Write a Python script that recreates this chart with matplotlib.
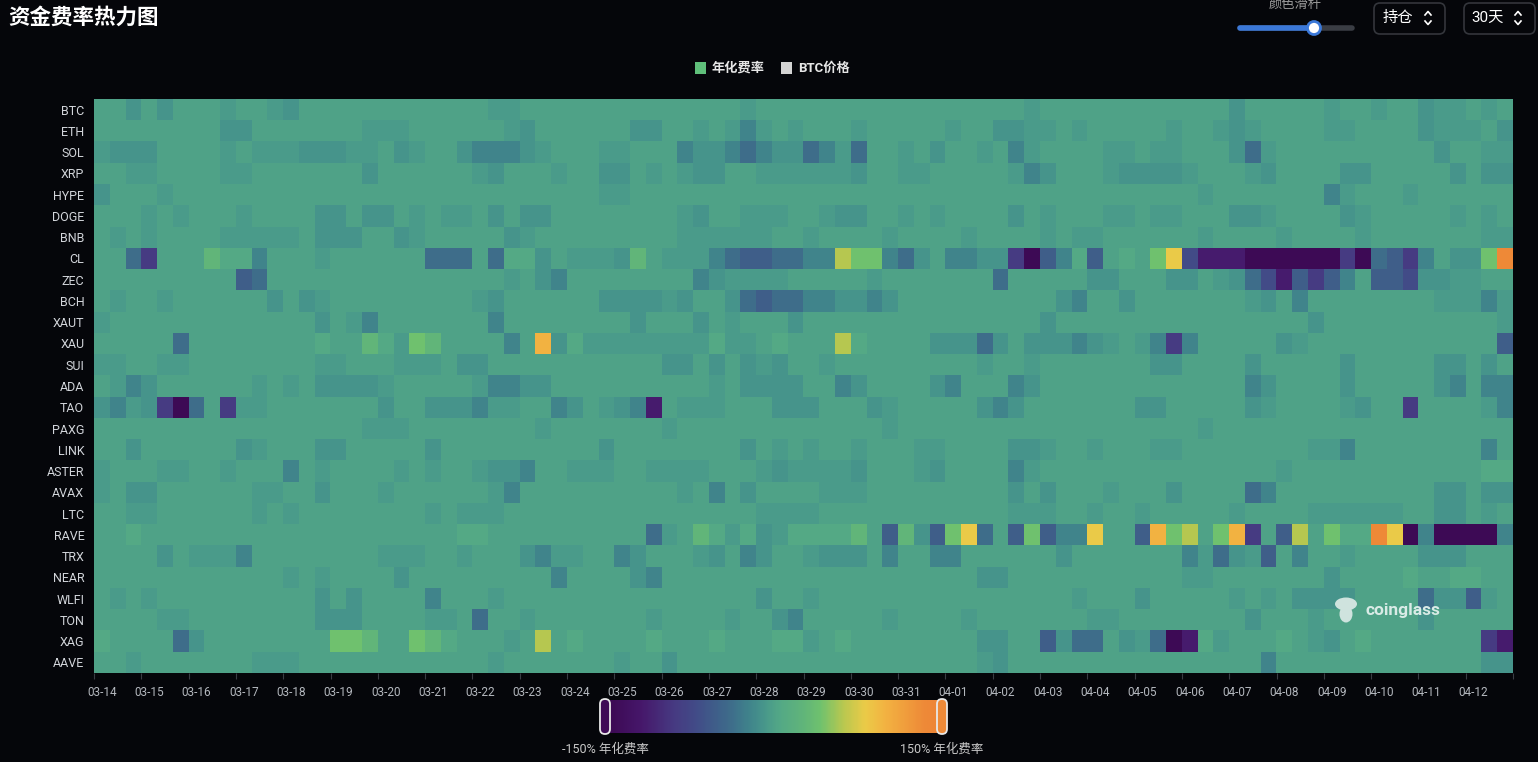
import matplotlib
matplotlib.use('Agg')
import matplotlib.pyplot as plt
import numpy as np
from matplotlib.colors import LinearSegmentedColormap
from matplotlib.patches import FancyBboxPatch, Rectangle, Circle, Ellipse

plt.rcParams['font.family'] = ['Roboto', 'Noto Sans CJK SC', 'DejaVu Sans']

BG = '#05060a'
W, H = 1538, 762

symbols = ['BTC', 'ETH', 'SOL', 'XRP', 'HYPE', 'DOGE', 'BNB', 'CL', 'ZEC', 'BCH',
           'XAUT', 'XAU', 'SUI', 'ADA', 'TAO', 'PAXG', 'LINK', 'ASTER', 'AVAX',
           'LTC', 'RAVE', 'TRX', 'NEAR', 'WLFI', 'TON', 'XAG', 'AAVE']

dates = ['03-14', '03-15', '03-16', '03-17', '03-18', '03-19', '03-20', '03-21',
         '03-22', '03-23', '03-24', '03-25', '03-26', '03-27', '03-28', '03-29',
         '03-30', '03-31', '04-01', '04-02', '04-03', '04-04', '04-05', '04-06',
         '04-07', '04-08', '04-09', '04-10', '04-11', '04-12']

# annualised funding rate (%) per level code
level = {'X': -145, 'P': -115, 'p': -88, 'q': -70, 'B': -52, 'b': -38,
         '=': -22, '-': -10, '.': -5, '0': 0, '+': 6, 'g': 28, 'G': 42,
         'y': 62, 'Y': 82, 'o': 100, 'O': 135}

# one group of 3 funding periods per day, 30 days
rows = [
    "00- 0-0 00. 00. -00 000 000 000 0.. 000 000 000 000 00. 000 000 000 000 000 00. 000 000 000 000 -00 000 .00 .00 -.. 0.0",
    "000 000 00- -00 000 00. ..0 000 00. -00 000 0-- 00. 0.= .0. 000 .00 000 .00 --. .0. 000 00. 00. -.0 000 ..0 000 -.. .0-",
    ".-- -00 00. 0.. .-- -.. 0-. 00- === -.0 00. .00 0=- -=b =-- b=. b00 .0- 00. 0=. 000 0.. 0.. 000 -b. 000 000 000 0-0 0..",
    "00. .00 00. .00 000 00- 000 000 .-0 00. 00- -0. 0.- -00 ... ... -00 ..0 000 0.= -00 0.- --- .00 0.- 000 0-- 000 00- 0--",
    "-00 0.0 000 000 000 000 000 000 000 000 00. .00 000 000 000 000 000 000 000 000 000 000 000 0.0 000 000 =.0 00. 000 000",
    "000 .0. 000 .00 00- -0- -0. 0.. 0-0 --0 000 000 0.- 00. ..0 0.- -00 .0. 000 0-0 .00 0.. 0.. 000 --. 000 0-. 000 00. 0.0",
    "0.0 .00 00. ... .0- --0 0-. 000 00- .00 000 000 0.. ... .00 .00 00. 000 0.0 000 .0. .00 000 0.0 000 .00 00. 000 000 0..",
    "00b p00 0g+ +=0 00. 000 000 bbb 0b+ +-0 ... -g0 ... =bB Bbb ==y GG= b-0 ==- -pX B=+ B0+ 0GY qPP PXX XXX XpX bBp =0- -GO",
    "000 000 000 Bb0 000 000 000 000 00. 0-= 000 000 00= -.. ..0 000 0.0 000 000 b00 000 --0 00- -0. -bq PBp B=0 BBq --. .00",
    "0.0 0.0 000 00- 0-. 000 000 000 .-0 000 00- --- .-0 0-b Bbb ==- -=- 000 000 000 0-= 00- 000 000 0.- 0=0 000 000 0.. .=.",
    ".00 000 000 000 00- 0.= 000 000 0=0 000 000 0-0 00- 0.0 00- 000 000 000 000 000 -00 000 000 000 000 00- 000 000 000 00.",
    "000 00b 000 000 00+ 00g +.G g00 00= 0o- +.. ... ... +.. 0+0 00y +00 00- --b -0- --= -.0 .=p =00 000 -.0 000 000 000 00B",
    "..0 0.. 000 000 00. .00 0.. .0- -00 000 000 000 --0 -0- .-0 0.0 000 000 00. 00. 000 000 0-- 000 0-0 000 0-0 000 0-- 0-0",
    "0.= -00 000 0.0 .0- --- .00 000 .== --0 000 000 000 .0- --- 00= -00 00- =00 0=- 000 000 000 000 0=- 000 0-0 000 0-= 0==",
    "-=. -pX b0p ..0 000 000 -00 --- =.. 00= -0. -=P 0.. .00 0-- -00 0-. 000 00- =-0 000 000 --0 000 0-. 000 0.- 00p 000 0.=",
    "000 000 000 000 000 00. ..0 000 000 0.0 000 000 .00 000 000 000 00. 000 000 000 000 000 000 0.0 000 000 000 000 000 000",
    "00- 000 000 -.0 00- -00 000 -00 000 000 00- 000 000 00- 0.0 .00 .00 0.. 000 0-- .00 .00 0.. 000 000 00. .=0 000 000 0=0",
    ".00 0.. 00. 000 =0. 000 0.0 .00 .-- =00 ... 00. ... 000 .-. ... -00 0.- 000 0=. 000 000 000 000 000 .00 000 000 000 0++",
    ".0- -00 000 0.. 00- 000 .00 000 0.= 000 000 000 0.0 =0- 000 0.. .00 000 000 0-0 -00 0.0 00- 000 0b= 000 000 000 0-- 0--",
    "00. .00 000 0.0 .00 000 000 .0. ..0 000 000 000 000 000 ... .00 000 000 000 0.. .00 .00 .00 000 .00 00. ... ..0 0-- 0.0",
    "00+ 000 000 000 000 000 000 00+ +00 000 000 00b .0g +.+ -.+ +++ g0B g-B GYb 0BG B== Y00 BoG y0G op0 By0 G++ OYX =XX XX=",
    "000 0-0 ... =00 000 000 ... 00. 000 -=. .00 =-0 00. -0= -00 .-- -0= 00= =00 000 0-0 000 000 =.b -.B 0=0 0.0 000 --- 000",
    "000 000 000 000 .0. 000 0-0 000 000 00= 000 0-= 000 000 000 000 000 000 00- -00 000 000 000 ..0 000 000 -00 00+ 00+ +00",
    "0.0 .00 000 000 00- 0-0 000 =00 0.0 000 000 000 000 000 -00 .00 000 000 000 000 00. 000 -00 000 .0. 0-- --0 000 b-- B.0",
    "000 0.. 000 000 00- --0 000 ..0 b00 .00 000 00. 000 0.0 0-= 000 00. 000 0.0 000 000 ..0 000 000 0-0 00. 000 000 -00 000",
    "+00 00b -00 000 000 GGg 00G g+0 00. 0y0 +00 00+ 000 +00 0++ .0+ 000 000 00- -00 B-b b0- .bX P+. 000 +0. -0+ 000 000 0pP",
    "00. 000 000 0.. .00 000 000 000 0.0 000 000 .00 -00 000 000 000 000 000 00. -00 000 000 000 000 00= 000 000 000 000 0--",
]

data = np.array([[level[c] for c in r.replace(' ', '')] for r in rows], dtype=float)

cmap = LinearSegmentedColormap.from_list('funding', [
    (0.000, '#3c0852'), (0.100, '#46176a'), (0.200, '#473a82'),
    (0.267, '#424c88'), (0.327, '#3f5f8a'), (0.373, '#3e6e8b'),
    (0.427, '#40848c'), (0.467, '#47958b'), (0.483, '#4b9c8a'),
    (0.500, '#4fa288'), (0.520, '#54a986'), (0.593, '#62b679'),
    (0.640, '#70c26e'), (0.707, '#b8c850'), (0.773, '#ebcb48'),
    (0.833, '#f3b342'), (0.950, '#ee8a38'), (1.000, '#ee8436')])

fig = plt.figure(figsize=(W / 100, H / 100), dpi=100, facecolor=BG)

# heatmap
ax = fig.add_axes([94 / W, (H - 673) / H, 1419 / W, 574 / H])
ax.imshow(data, cmap=cmap, vmin=-150, vmax=150, aspect='auto', interpolation='nearest')
ax.set_yticks(range(len(symbols)))
ax.set_yticklabels(symbols)
ax.set_xticks(np.arange(0, data.shape[1], 3))
ax.set_xticklabels(dates)
ax.set_xticks(np.arange(-0.5, data.shape[1], 3), minor=True)
ax.tick_params(axis='y', length=0, pad=7, labelsize=9, labelcolor='#d2d5da')
ax.tick_params(axis='x', which='major', length=0, pad=9, labelsize=8.5, labelcolor='#b4b8be')
ax.tick_params(axis='x', which='minor', length=4, width=0.8, color='#3a3d44')
ax.tick_params(axis='y', which='minor', length=0)
for s in ax.spines.values():
    s.set_visible(False)

# overlay in pixel coordinates for the page decorations
ov = fig.add_axes([0, 0, 1, 1], zorder=5)
ov.axis('off')

ov.text(8, 18, '资金费率热力图', color='white', fontsize=15.5, fontweight='bold', va='center', ha='left')

# colour slider + selectors
ov.text(1295, 4, '颜色滑杆', color='#9a9a9a', fontsize=9.5, ha='center', va='center')
ov.plot([1240, 1352], [28, 28], color='#3a3d44', lw=4, solid_capstyle='round')
ov.plot([1240, 1314], [28, 28], color='#3b78d8', lw=4, solid_capstyle='round')
ov.add_patch(Circle((1314, 28), 6.5, facecolor='white', edgecolor='#3b78d8', lw=2, zorder=3))

for x0, label in [(1374, '持仓'), (1464, '30天')]:
    ov.add_patch(FancyBboxPatch((x0, 3), 71, 31, boxstyle='round,pad=0,rounding_size=6',
                                facecolor='none', edgecolor='#34363c', lw=1.2))
    ov.text(x0 + 24, 18, label, color='white', fontsize=11, ha='center', va='center')
    cx = x0 + 54
    ov.plot([cx - 3, cx, cx + 3], [15, 11.5, 15], color='white', lw=1.2)
    ov.plot([cx - 3, cx, cx + 3], [21, 24.5, 21], color='white', lw=1.2)

# legend
ov.add_patch(Rectangle((695, 62), 11, 12, facecolor='#5fbf7a', edgecolor='none'))
ov.text(712, 68, '年化费率', color='#e6e6e6', fontsize=9.5, fontweight='bold', va='center')
ov.add_patch(Rectangle((781, 62), 11, 12, facecolor='#d4d4d4', edgecolor='none'))
ov.text(798, 68, 'BTC价格', color='#e6e6e6', fontsize=9.5, fontweight='bold', va='center')

# colour bar
grad = np.linspace(-150, 150, 300)[None, :]
im = ov.imshow(grad, cmap=cmap, vmin=-150, vmax=150, extent=(606, 942, 733, 700),
               aspect='auto', interpolation='bilinear')
clip = FancyBboxPatch((606, 700), 336, 33, boxstyle='round,pad=0,rounding_size=4',
                      transform=ov.transData, facecolor='none', edgecolor='none')
ov.add_patch(clip)
im.set_clip_path(clip)
ov.add_patch(FancyBboxPatch((600, 699), 10, 35, boxstyle='round,pad=0,rounding_size=5',
                            facecolor='#3f0b56', edgecolor='#e8e8e8', lw=1.3, zorder=4))
ov.add_patch(FancyBboxPatch((937, 699), 10, 35, boxstyle='round,pad=0,rounding_size=5',
                            facecolor='#ee8a38', edgecolor='#e8e8e8', lw=1.3, zorder=4))
ov.text(605, 749, '-150% 年化费率', color='#c8c8c8', fontsize=9, ha='center', va='center')
ov.text(942, 749, '150% 年化费率', color='#c8c8c8', fontsize=9, ha='center', va='center')

# watermark
ov.add_patch(Ellipse((1346, 604), 22, 13, facecolor='#cfe3de', edgecolor='none', zorder=6))
ov.add_patch(Ellipse((1346, 614), 13, 17, facecolor='#cfe3de', edgecolor='none', zorder=6))
ov.text(1365, 610, 'coinglass', color='#d9ebe6', fontsize=12.5, fontweight='bold',
        ha='left', va='center', zorder=6)

ov.set_xlim(0, W)
ov.set_ylim(H, 0)

fig.savefig('out.png', dpi=100, facecolor=BG)
plt.close(fig)
